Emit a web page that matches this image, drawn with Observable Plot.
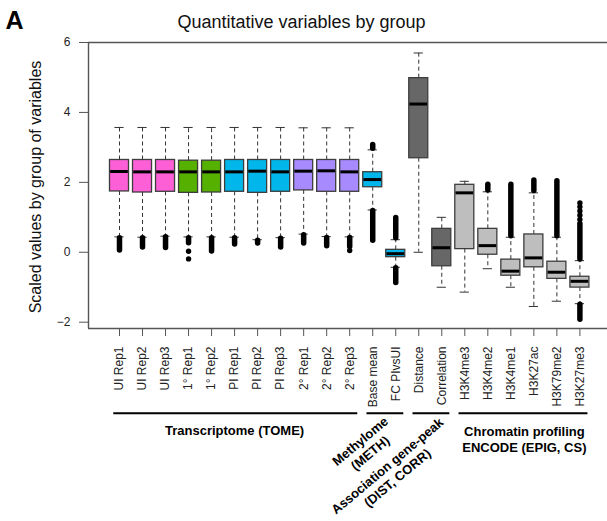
<!DOCTYPE html>
<html><head><meta charset="utf-8">
<script src="https://cdn.jsdelivr.net/npm/d3@7"></script>
<script src="https://cdn.jsdelivr.net/npm/@observablehq/plot@0.6"></script>
<style>body{margin:0;background:#fff} svg{display:block}</style>
</head><body><div id="chart"></div>
<script>
// ---- data ----
const names = ["UI Rep1","UI Rep2","UI Rep3","1° Rep1","1° Rep2","PI Rep1","PI Rep2","PI Rep3","2° Rep1","2° Rep2","2° Rep3",
  "Base mean","FC PIvsUI","Distance","Correlation",
  "H3K4me3","H3K4me2","H3K4me1","H3K27ac","H3K79me2","H3K27me3"];
const boxGroup = ["UI","UI","UI","P1","P1","PI","PI","PI","P2","P2","P2","METH","METH","DIST","DIST","EPIG","EPIG","EPIG","EPIG","EPIG","EPIG"];
const fillKeys = ["UI","P1","PI","P2","METH","DIST","EPIG"];
const fillColors = ["#fd5fd7","#55b000","#00b6ea","#a78bfe","#00b6ea","#676767","#bebebe"];

const whiskerHi = [3.57,3.57,3.57,3.57,3.57,3.57,3.57,3.57,3.56,3.56,3.56, 2.93,0.36,5.70,1.00, 2.03,1.73,0.43,1.70,0.43,-0.24];
const q3        = [2.64,2.64,2.64,2.62,2.62,2.64,2.64,2.64,2.64,2.64,2.64, 2.29,0.07,4.98,0.67, 1.93,0.67,-0.21,0.51,-0.27,-0.70];
const median    = [2.31,2.30,2.30,2.30,2.30,2.30,2.32,2.30,2.32,2.33,2.30, 2.08,-0.04,4.24,0.13, 1.70,0.19,-0.54,-0.16,-0.57,-0.83];
const q1        = [1.74,1.71,1.73,1.70,1.71,1.73,1.70,1.73,1.77,1.73,1.73, 1.86,-0.14,2.69,-0.40, 0.09,-0.07,-0.67,-0.43,-0.76,-1.01];
const whiskerLo = [0.44,0.43,0.46,0.44,0.44,0.43,0.36,0.42,0.52,0.45,0.44, 1.21,-0.43,0.00,-1.00, -1.14,-0.47,-1.00,-1.55,-1.40,-1.47];

// dense runs of outliers (box number, from, to)
const runBox  = [1,2,3,4,5,6,7,8,9,10,11, 12,12, 13,13, 17,18,19,20, 21,21];
const runFrom = [0.40,0.40,0.43,0.40,0.40,0.40,0.33,0.39,0.49,0.41,0.41, 3.07,1.18, 0.98,-0.46, 1.93,1.93,2.05,2.03, 0.81,-1.50];
const runTo   = [0.05,0.14,0.12,0.26,0.02,0.22,0.25,0.14,0.25,0.17,0.15, 2.96,0.33, 0.40,-0.88, 1.77,0.46,1.75,0.46, -0.21,-1.93];
// isolated outliers
const dotBox   = [4,4,11,21,21,21,21,21];
const dotValue = [0.03,-0.19,0.05,1.41,1.30,1.18,1.06,0.94];

const yTicks = [-2,0,2,4,6];
const groupNames = ["Transcriptome (TOME)","Methylome\n(METH)","Association gene-peak\n(DIST, CORR)","Chromatin profiling\nENCODE (EPIG, CS)"];
const groupStart = [1,12,14,16];
const groupEnd   = [11,13,15,21];
const titleText = "Quantitative variables by group";
const yTitle = "Scaled values by group of variables";
const panelTag = "A";

// ---- tables ----
const boxes = names.map((name,k)=>({i:k+1,name,group:boxGroup[k],lo:whiskerLo[k],q1:q1[k],med:median[k],q3:q3[k],hi:whiskerHi[k]}));
const runs = runBox.map((b,k)=>({i:b,from:runFrom[k],to:runTo[k]}));
const dots = dotBox.map((b,k)=>({i:b,v:dotValue[k]}));
const groups = groupNames.map((name,k)=>({name,start:groupStart[k],end:groupEnd[k],mid:(groupStart[k]+groupEnd[k])/2}));

const HALF = 0.413, CAP = 0.2;
const yDomain = [-2.18, 6];
const xDomain = [-0.3467, 22.199];
const bottom = () => yDomain[0];
const axisColor = "#555";

const chart = Plot.plot({
  width: 607, height: 521,
  marginTop: 42, marginBottom: 193, marginLeft: 88, marginRight: 0,
  style: {fontFamily: "'Liberation Sans', Arial, sans-serif", background: "#fff", color: "#222", overflow: "visible"},
  x: {type: "linear", domain: xDomain},
  y: {domain: yDomain},
  color: {domain: fillKeys, range: fillColors},
  marks: [
    // frame lines (top, bottom, left)
    Plot.ruleY([yDomain[1]], {stroke: axisColor, strokeWidth: 1.4}),
    Plot.ruleY([yDomain[0]], {stroke: axisColor, strokeWidth: 1.4}),
    Plot.ruleX([xDomain[0]], {stroke: axisColor, strokeWidth: 1.4}),
    Plot.axisY({ticks: yTicks, tickSize: 9, tickPadding: 9, fontSize: 12, label: null, stroke: axisColor}),
    Plot.axisX({ticks: d3.range(1, names.length + 1), tickFormat: i => names[i - 1], tickRotate: -90,
      tickSize: 8, tickPadding: 10, fontSize: 12, label: null, stroke: axisColor}),
    // whiskers
    Plot.ruleX(boxes, {x: "i", y1: "q3", y2: "hi", stroke: "#333", strokeDasharray: "4,3", strokeWidth: 1}),
    Plot.ruleX(boxes, {x: "i", y1: "q1", y2: "lo", stroke: "#333", strokeDasharray: "4,3", strokeWidth: 1}),
    Plot.ruleY(boxes, {y: "hi", x1: d => d.i - CAP, x2: d => d.i + CAP, stroke: "#333", strokeWidth: 1}),
    Plot.ruleY(boxes, {y: "lo", x1: d => d.i - CAP, x2: d => d.i + CAP, stroke: "#333", strokeWidth: 1}),
    // outliers
    Plot.ruleX(runs, {x: "i", y1: "from", y2: "to", stroke: "#000", strokeWidth: 5.5, strokeLinecap: "round"}),
    Plot.dot(dots, {x: "i", y: "v", r: 2.7, fill: "#000"}),
    // boxes
    Plot.rect(boxes, {x1: d => d.i - HALF, x2: d => d.i + HALF, y1: "q1", y2: "q3", fill: "group", stroke: "#3d3d3d", strokeWidth: 1.3}),
    Plot.ruleY(boxes, {y: "med", x1: d => d.i - HALF + 0.03, x2: d => d.i + HALF - 0.03, stroke: "#000", strokeWidth: 3}),
    // titles
    Plot.text([titleText], {frameAnchor: "top", dx: -46.5, dy: -15, lineAnchor: "bottom", fontSize: 18, fill: "#111"}),
    Plot.text([panelTag], {frameAnchor: "top-left", textAnchor: "start", dx: -83, dy: -14, lineAnchor: "bottom", fontSize: 25, fontWeight: "bold", fill: "#000"}),
    Plot.text([yTitle], {frameAnchor: "left", textAnchor: "middle", rotate: -90, dx: -53, dy: 1.5, fontSize: 16, fill: "#111"}),
    // group underlines and labels
    Plot.ruleY(groups, {x1: d => d.start - 0.25, x2: d => d.end + 0.35, y: bottom, dy: 84.7, stroke: "#000", strokeWidth: 2}),
    Plot.text(groups.filter((d, k) => k === 0), {x: "mid", y: bottom, text: "name", dy: 102.8, fontSize: 13, fontWeight: "bold", fill: "#000"}),
    Plot.text(groups.filter((d, k) => k === 3), {x: "mid", y: bottom, text: "name", dx: 2, dy: 110, lineHeight: 1.25, fontSize: 13, fontWeight: "bold", fill: "#000"}),
    Plot.text(groups.filter((d, k) => k === 1), {x: "mid", y: bottom, text: "name", rotate: -40, dx: -19.4, dy: 118.2, lineHeight: 1.2, fontSize: 13, fontWeight: "bold", fill: "#000"}),
    Plot.text(groups.filter((d, k) => k === 2), {x: "mid", y: bottom, text: "name", rotate: -40, dx: -38.3, dy: 143, lineHeight: 1.2, fontSize: 13, fontWeight: "bold", fill: "#000"})
  ]
});
document.getElementById("chart").append(chart);
</script>
</body></html>
